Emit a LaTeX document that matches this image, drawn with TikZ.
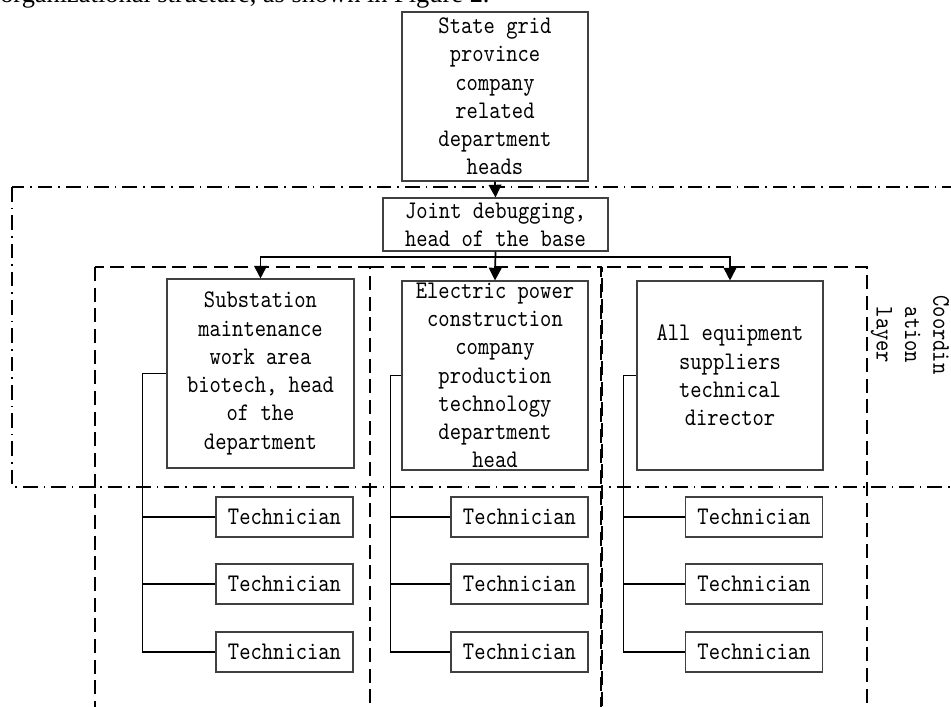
\documentclass[tikz,border=0pt]{standalone}
\usepackage{fontspec}
\usetikzlibrary{arrows.meta}
\newfontfamily\boxfont{lmmono10-regular.otf}[FakeStretch=0.85]
\newfontfamily\bodyfont{Liberation Serif}
\begin{document}
\begin{tikzpicture}[x=0.75pt,y=-0.75pt,
  box/.style={draw=black!75, line width=0.8pt, inner sep=0pt},
  boxtext/.style={align=center, inner sep=0pt, text=black,
    font=\boxfont\fontsize{19pt}{21.2pt}\selectfont},
  techbox/.style={box, minimum width=102.75pt, minimum height=30pt,
    font=\boxfont\fontsize{19pt}{21.2pt}\selectfont},
  conn/.style={line width=1.3pt},
  arr/.style={conn, -{Triangle[length=9.5pt,width=9.5pt]}},
  grp/.style={line width=1.2pt, dash pattern=on 10.5pt off 5pt},
  coordbox/.style={line width=1.1pt, dash pattern=on 11pt off 4.5pt on 1.2pt off 4.5pt}]

\useasboundingbox (0,0) rectangle (951,707);
\clip (0,0) rectangle (951,707);

% running text line above the chart
\node[anchor=base west, inner sep=0pt,
  font=\bodyfont\fontsize{19.8pt}{24pt}\selectfont] (caption) at (0,2)
  {organizational structure, as shown in Figure 2.};

% coordination layer frame and its label
\draw[coordbox] (12,187) rectangle (990,487);
\node[boxtext, rotate=-90] (coordlbl) at (910,335) {Coordin\\ation\\layer};

% the three working groups (the middle one shares its left side)
\draw[grp] (95,267) rectangle (370,730);
\draw[grp] (370,267) -- (601,267) -- (601,730);
\draw[grp, dash phase=7pt] (602,267) rectangle (867,730);

% management boxes
\node[box, minimum width=139.5pt, minimum height=126.75pt] (state) at (495,96.5) {};
\node[boxtext] (stateT) at (state) {State grid\\province\\company\\related\\department\\heads};

\node[box, minimum width=168.75pt, minimum height=39.75pt] (joint) at (495.5,224.5) {};
\node[boxtext] (jointT) at (joint) {Joint debugging,\\head of the base};

\node[box, minimum width=140.25pt, minimum height=141.75pt] (sub) at (260.5,373.5) {};
\node[boxtext] (subT) at (sub) {Substation\\maintenance\\work area\\biotech, head\\of the\\department};

\node[box, minimum width=139.5pt, minimum height=141.75pt] (epc) at (495,375.5) {};
\node[boxtext] (epcT) at (epc) {Electric power\\construction\\company\\production\\technology\\department\\head};

\node[box, minimum width=139.5pt, minimum height=141.75pt] (aes) at (730,375.5) {};
\node[boxtext] (aesT) at (aes) {All equipment\\suppliers\\technical\\director};

% technicians
\node[techbox] (t11) at (284.5,517) {Technician};
\node[techbox] (t12) at (284.5,584) {Technician};
\node[techbox] (t13) at (284.5,652) {Technician};
\node[techbox] (t21) at (519.5,517) {Technician};
\node[techbox] (t22) at (519.5,584) {Technician};
\node[techbox] (t23) at (519.5,652) {Technician};
\node[techbox] (t31) at (754,517) {Technician};
\node[techbox] (t32) at (754,584) {Technician};
\node[techbox] (t33) at (754,652) {Technician};

% command connectors
\coordinate (bus) at (495,257);
\draw[arr] (state.south) -- (joint.north);
\draw[arr] (joint.south) -- (epc.north);
\draw[arr] (bus) -| (sub.north);
\draw[arr] (bus) -| (aes.north);

% technician spines
\draw[conn] (sub.west) -- ++(-24,0) coordinate (spL) |- (t13.west);
\draw[conn] (spL |- t11.west) -- (t11.west);
\draw[conn] (spL |- t12.west) -- (t12.west);

\draw[conn] (epc.west) -- ++(-11,0) coordinate (spM) |- (t23.west);
\draw[conn] (spM |- t21.west) -- (t21.west);
\draw[conn] (spM |- t22.west) -- (t22.west);

\draw[conn] (aes.west) -- ++(-13,0) coordinate (spR) |- (t33.west);
\draw[conn] (spR |- t31.west) -- (t31.west);
\draw[conn] (spR |- t32.west) -- (t32.west);
\end{tikzpicture}
\end{document}
